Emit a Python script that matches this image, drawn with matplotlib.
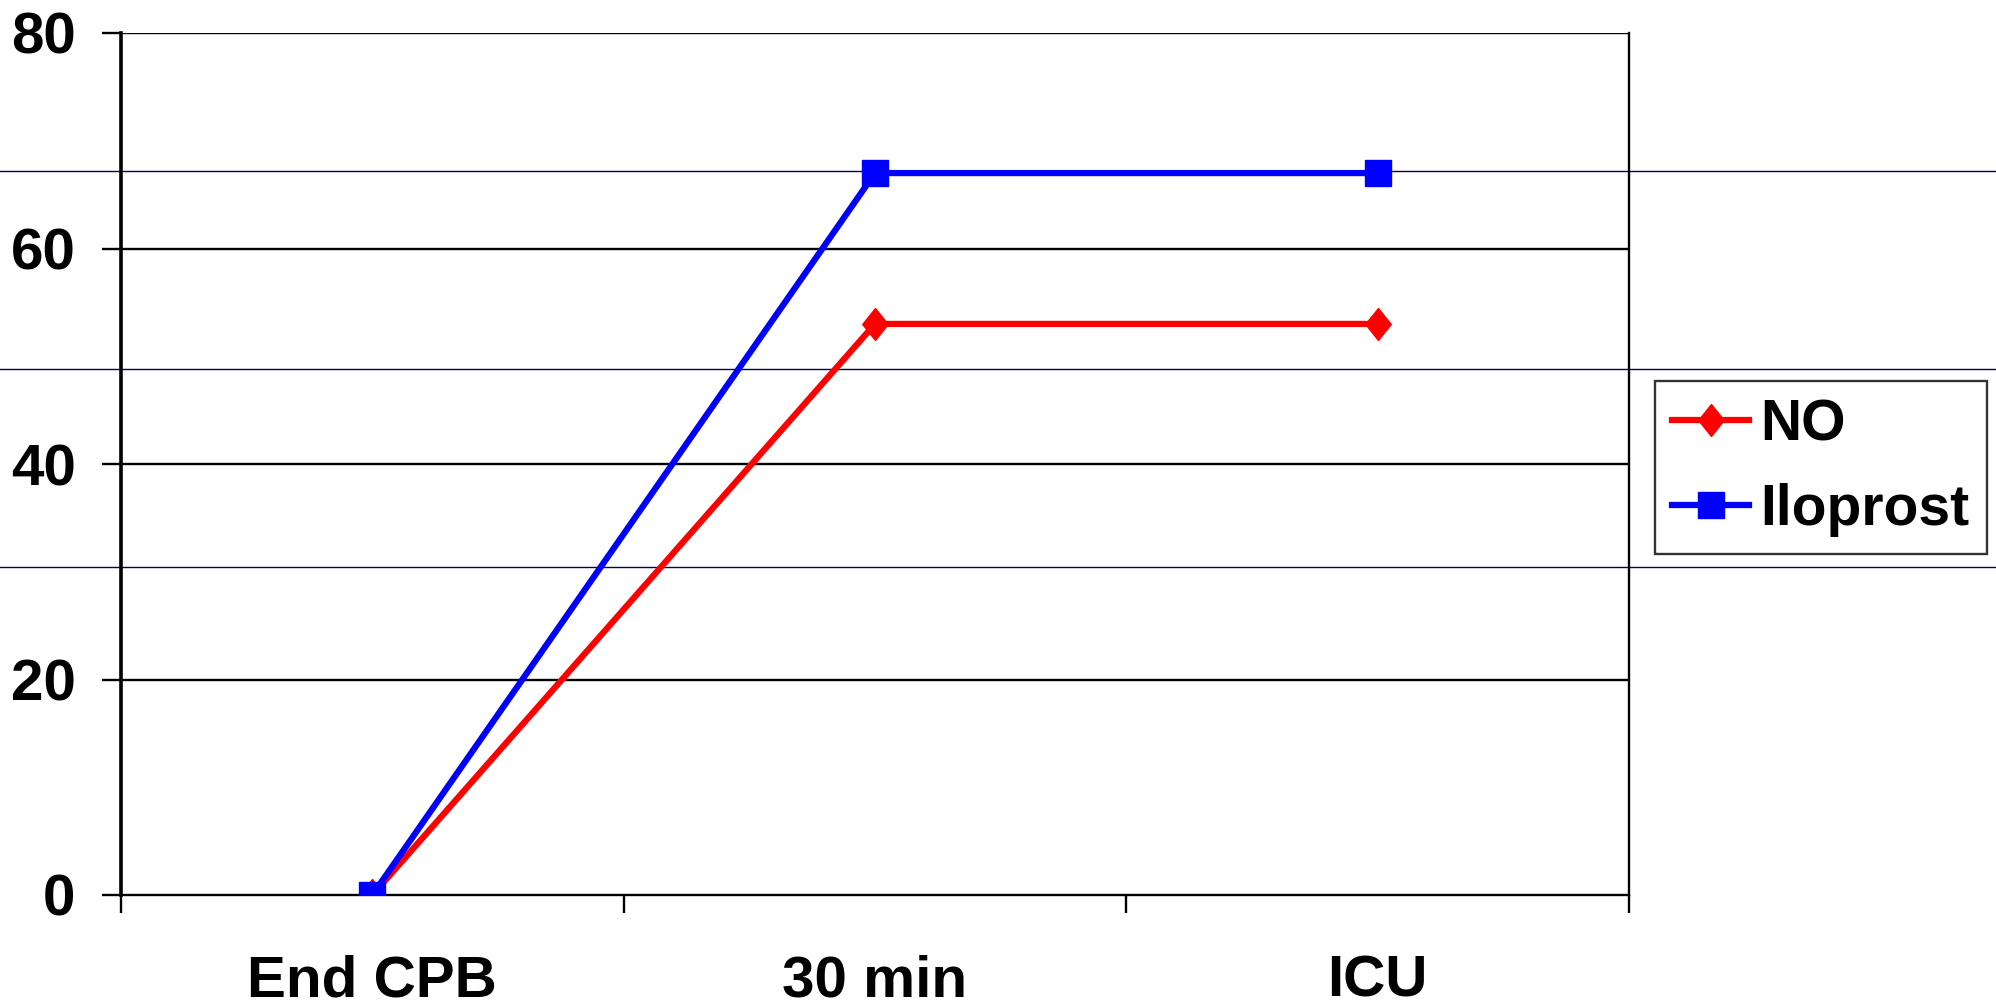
import matplotlib
matplotlib.use("Agg")
import matplotlib.pyplot as plt
from matplotlib.lines import Line2D
from matplotlib.path import Path
from matplotlib import transforms

# Werte je Zeitpunkt
zeitpunkte = ["End CPB", "30 min", "ICU"]
no_werte = [0, 53, 53]
iloprost_werte = [0, 67, 67]
y_ticks = [0, 20, 40, 60, 80]
# dünne Linien quer über die Abbildung (in Y-Einheiten)
quer_linien = [67.2, 48.8, 30.4]

plt.rcParams["font.family"] = ["Liberation Sans", "DejaVu Sans"]
plt.rcParams["font.weight"] = "bold"

fig = plt.figure(figsize=(19.96, 10.07), dpi=100)
ax = fig.add_axes([121 / 1996, 1 - 895 / 1007, (1629 - 121) / 1996, (895 - 33) / 1007])
ax.patch.set_visible(False)

x = list(range(len(zeitpunkte)))

raute = Path([(0, 1), (0.8, 0), (0, -1), (-0.8, 0), (0, 1)],
             [Path.MOVETO, Path.LINETO, Path.LINETO, Path.LINETO, Path.CLOSEPOLY])

ax.plot(x, no_werte, color="#ff0000", lw=4.5, marker=raute, ms=23,
        mec="#ff0000", mfc="#ff0000", label="NO", zorder=3)
ax.plot(x, iloprost_werte, color="#0000ff", lw=4.5, marker="s", ms=18.5,
        mec="#0000ff", mfc="#0000ff", label="Iloprost", zorder=4)

ax.set_xlim(-0.5, 2.5)
ax.set_ylim(0, 80)

# Gitter
for y in y_ticks[1:]:
    ax.axhline(y, color="black", lw=1.7, zorder=1)

# Rahmen
ax.spines["top"].set_visible(False)
ax.spines["left"].set_linewidth(2.6)
ax.spines["bottom"].set_linewidth(1.7)
ax.spines["right"].set_linewidth(1.7)

ax.set_yticks(y_ticks)
ax.set_yticklabels([str(v) for v in y_ticks])
ax.tick_params(axis="y", length=13.7, width=1.7, pad=19, labelsize=42)

ax.set_xticks(x)
ax.set_xticklabels(zeitpunkte)
ax.set_xticks([-0.5, 0.5, 1.5, 2.5], minor=True)
ax.tick_params(axis="x", which="major", length=0, pad=43, labelsize=42)
ax.tick_params(axis="x", which="minor", length=13, width=1.7)

# dünne dunkelblaue Querlinien über die ganze Breite
trans = transforms.blended_transform_factory(fig.transFigure, ax.transData)
for y in quer_linien:
    fig.add_artist(Line2D([0, 1], [y, y], transform=trans, color="#000060",
                          lw=1.0, zorder=-1))

leg = fig.legend(loc="upper left", bbox_to_anchor=(1655 / 1996, 1 - 381 / 1007),
                 fontsize=41, frameon=True, fancybox=False, handlelength=1.35,
                 handletextpad=0.2, borderpad=0.3, labelspacing=0.55,
                 borderaxespad=0)
leg.get_frame().set_edgecolor("black")
leg.get_frame().set_linewidth(1.7)

fig.savefig("out.png", dpi=100)
